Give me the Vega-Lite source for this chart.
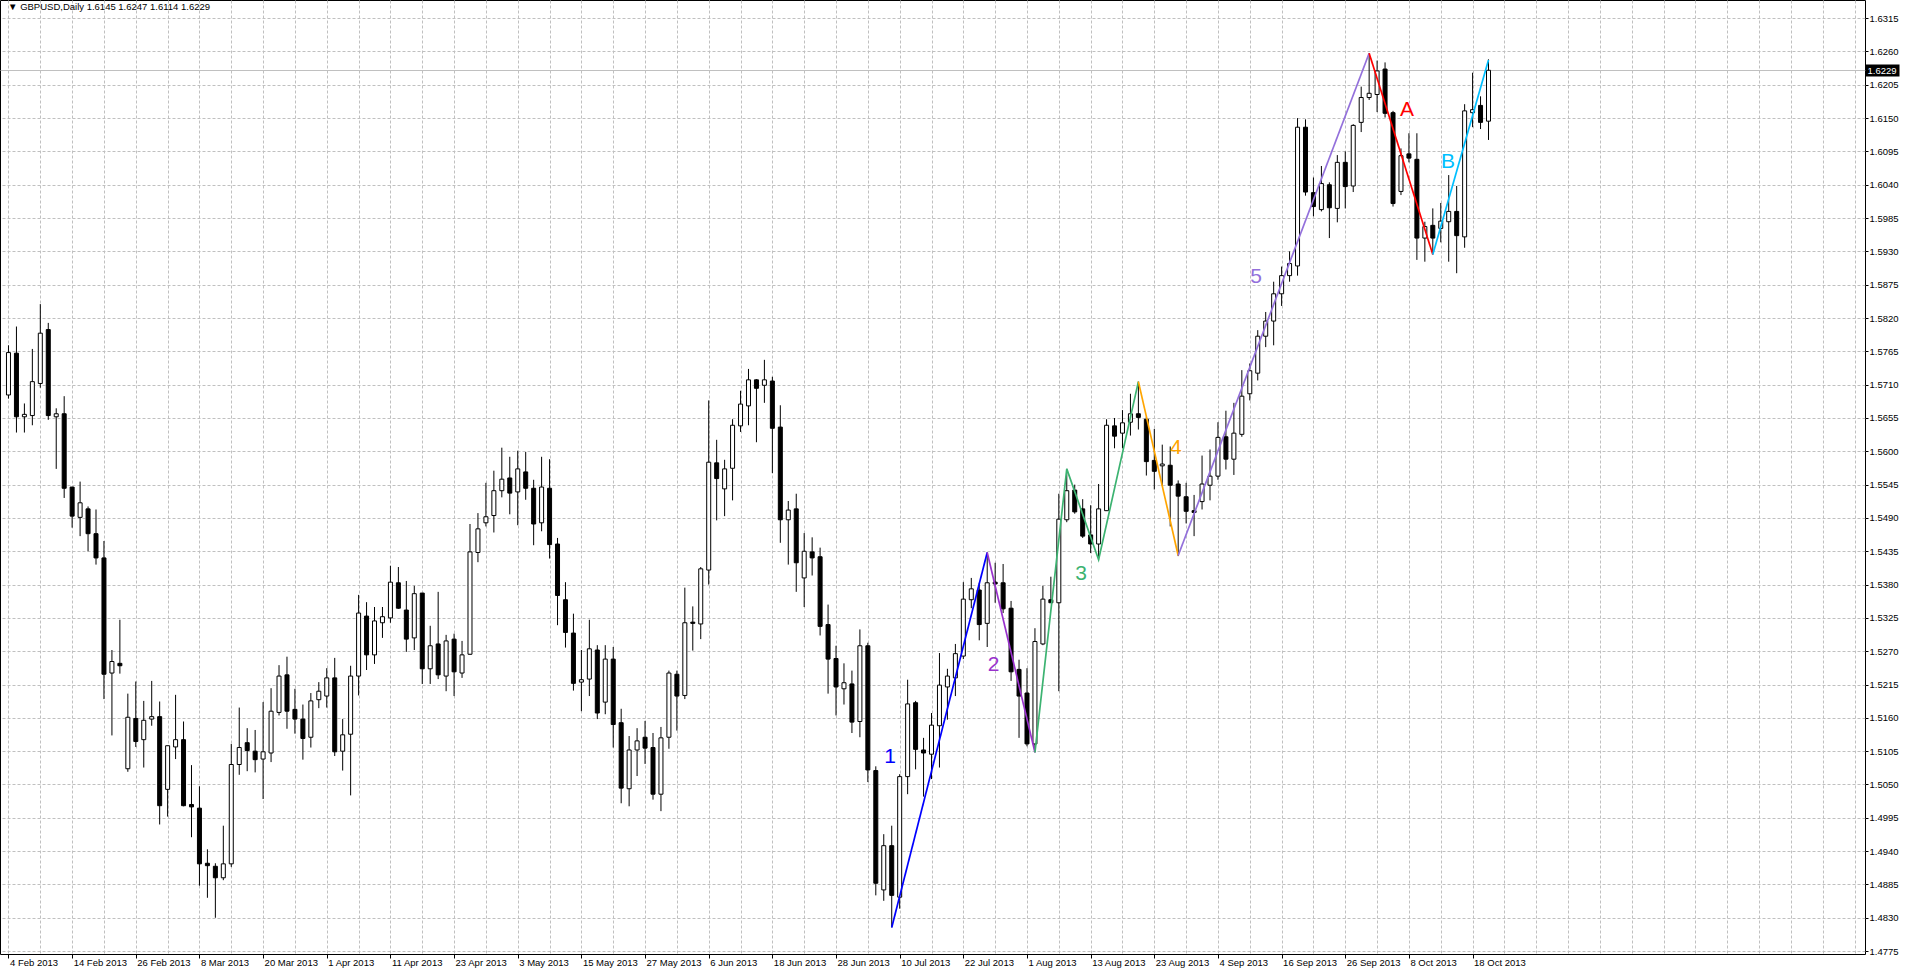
{
"$schema": "https://vega.github.io/schema/vega-lite/v6.json",
"width": 1865, "height": 954,
"autosize": "none",
"padding": {"left": 0, "top": 0, "right": 41, "bottom": 19},
"background": "white",
"config": {
  "view": {"stroke": "black", "strokeWidth": 1},
  "axis": {"labelFont": "Liberation Sans", "labelFontSize": 9.5, "labelColor": "black", "tickColor": "black", "gridColor": "#c0c0c0", "domain": false, "title": null, "labelOverlap": false, "labelBound": false, "labelFlush": false}
},
"datasets": {
"candles": [
{"i":0,"o":1.5693,"h":1.5775,"l":1.5687,"c":1.5763},
{"i":1,"o":1.5762,"h":1.5806,"l":1.5631,"c":1.5657},
{"i":2,"o":1.5657,"h":1.5679,"l":1.5631,"c":1.5661},
{"i":3,"o":1.5659,"h":1.5769,"l":1.5643,"c":1.5715},
{"i":4,"o":1.5712,"h":1.5843,"l":1.5705,"c":1.5795},
{"i":5,"o":1.5801,"h":1.5812,"l":1.5652,"c":1.5659},
{"i":6,"o":1.5657,"h":1.5671,"l":1.5571,"c":1.5662},
{"i":7,"o":1.5662,"h":1.5691,"l":1.5523,"c":1.5539},
{"i":8,"o":1.5541,"h":1.5541,"l":1.5474,"c":1.5493},
{"i":9,"o":1.5491,"h":1.5550,"l":1.5460,"c":1.5515},
{"i":10,"o":1.5505,"h":1.5509,"l":1.5435,"c":1.5464},
{"i":11,"o":1.5464,"h":1.5504,"l":1.5413,"c":1.5424},
{"i":12,"o":1.5424,"h":1.5452,"l":1.5191,"c":1.5232},
{"i":13,"o":1.5234,"h":1.5272,"l":1.5131,"c":1.5253},
{"i":14,"o":1.5250,"h":1.5322,"l":1.5233,"c":1.5246},
{"i":15,"o":1.5076,"h":1.5200,"l":1.5071,"c":1.5161},
{"i":16,"o":1.5159,"h":1.5220,"l":1.5112,"c":1.5121},
{"i":17,"o":1.5124,"h":1.5188,"l":1.5078,"c":1.5156},
{"i":18,"o":1.5158,"h":1.5221,"l":1.5147,"c":1.5162},
{"i":19,"o":1.5162,"h":1.5187,"l":1.4984,"c":1.5015},
{"i":20,"o":1.5042,"h":1.5114,"l":1.4997,"c":1.5114},
{"i":21,"o":1.5112,"h":1.5198,"l":1.5092,"c":1.5124},
{"i":22,"o":1.5124,"h":1.5154,"l":1.5014,"c":1.5015},
{"i":23,"o":1.5017,"h":1.5082,"l":1.4963,"c":1.5013},
{"i":24,"o":1.5011,"h":1.5047,"l":1.4883,"c":1.4919},
{"i":25,"o":1.4920,"h":1.4943,"l":1.4863,"c":1.4916},
{"i":26,"o":1.4915,"h":1.4920,"l":1.4830,"c":1.4896},
{"i":27,"o":1.4896,"h":1.4982,"l":1.4892,"c":1.4919},
{"i":28,"o":1.4919,"h":1.5117,"l":1.4914,"c":1.5083},
{"i":29,"o":1.5083,"h":1.5177,"l":1.5066,"c":1.5111},
{"i":30,"o":1.5119,"h":1.5143,"l":1.5072,"c":1.5106},
{"i":31,"o":1.5105,"h":1.5140,"l":1.5070,"c":1.5091},
{"i":32,"o":1.5092,"h":1.5186,"l":1.5026,"c":1.5104},
{"i":33,"o":1.5102,"h":1.5209,"l":1.5087,"c":1.5171},
{"i":34,"o":1.5169,"h":1.5247,"l":1.5164,"c":1.5229},
{"i":35,"o":1.5231,"h":1.5261,"l":1.5142,"c":1.5171},
{"i":36,"o":1.5174,"h":1.5208,"l":1.5134,"c":1.5158},
{"i":37,"o":1.5158,"h":1.5182,"l":1.5091,"c":1.5126},
{"i":38,"o":1.5128,"h":1.5201,"l":1.5111,"c":1.5188},
{"i":39,"o":1.5190,"h":1.5219,"l":1.5176,"c":1.5204},
{"i":40,"o":1.5196,"h":1.5242,"l":1.5177,"c":1.5226},
{"i":41,"o":1.5226,"h":1.5259,"l":1.5097,"c":1.5104},
{"i":42,"o":1.5105,"h":1.5158,"l":1.5073,"c":1.5132},
{"i":43,"o":1.5133,"h":1.5246,"l":1.5032,"c":1.5229},
{"i":44,"o":1.5229,"h":1.5363,"l":1.5197,"c":1.5333},
{"i":45,"o":1.5328,"h":1.5351,"l":1.5239,"c":1.5264},
{"i":46,"o":1.5264,"h":1.5343,"l":1.5249,"c":1.5320},
{"i":47,"o":1.5317,"h":1.5343,"l":1.5292,"c":1.5327},
{"i":48,"o":1.5325,"h":1.5411,"l":1.5317,"c":1.5384},
{"i":49,"o":1.5383,"h":1.5409,"l":1.5340,"c":1.5341},
{"i":50,"o":1.5338,"h":1.5386,"l":1.5269,"c":1.5290},
{"i":51,"o":1.5292,"h":1.5378,"l":1.5272,"c":1.5365},
{"i":52,"o":1.5366,"h":1.5366,"l":1.5216,"c":1.5241},
{"i":53,"o":1.5241,"h":1.5312,"l":1.5216,"c":1.5279},
{"i":54,"o":1.5282,"h":1.5368,"l":1.5224,"c":1.5231},
{"i":55,"o":1.5229,"h":1.5297,"l":1.5204,"c":1.5287},
{"i":56,"o":1.5290,"h":1.5299,"l":1.5196,"c":1.5236},
{"i":57,"o":1.5234,"h":1.5287,"l":1.5226,"c":1.5264},
{"i":58,"o":1.5265,"h":1.5480,"l":1.5264,"c":1.5434},
{"i":59,"o":1.5433,"h":1.5498,"l":1.5417,"c":1.5472},
{"i":60,"o":1.5482,"h":1.5548,"l":1.5476,"c":1.5492},
{"i":61,"o":1.5494,"h":1.5568,"l":1.5466,"c":1.5535},
{"i":62,"o":1.5535,"h":1.5606,"l":1.5524,"c":1.5554},
{"i":63,"o":1.5556,"h":1.5591,"l":1.5496,"c":1.5531},
{"i":64,"o":1.5533,"h":1.5601,"l":1.5478,"c":1.5571},
{"i":65,"o":1.5566,"h":1.5599,"l":1.5520,"c":1.5539},
{"i":66,"o":1.5539,"h":1.5553,"l":1.5445,"c":1.5480},
{"i":67,"o":1.5482,"h":1.5591,"l":1.5468,"c":1.5541},
{"i":68,"o":1.5539,"h":1.5587,"l":1.5423,"c":1.5446},
{"i":69,"o":1.5447,"h":1.5457,"l":1.5313,"c":1.5362},
{"i":70,"o":1.5355,"h":1.5384,"l":1.5276,"c":1.5301},
{"i":71,"o":1.5300,"h":1.5332,"l":1.5205,"c":1.5217},
{"i":72,"o":1.5219,"h":1.5272,"l":1.5171,"c":1.5223},
{"i":73,"o":1.5224,"h":1.5322,"l":1.5196,"c":1.5274},
{"i":74,"o":1.5272,"h":1.5280,"l":1.5158,"c":1.5168},
{"i":75,"o":1.5186,"h":1.5280,"l":1.5166,"c":1.5257},
{"i":76,"o":1.5257,"h":1.5277,"l":1.5111,"c":1.5149},
{"i":77,"o":1.5152,"h":1.5175,"l":1.5019,"c":1.5044},
{"i":78,"o":1.5043,"h":1.5130,"l":1.5014,"c":1.5107},
{"i":79,"o":1.5107,"h":1.5143,"l":1.5064,"c":1.5122},
{"i":80,"o":1.5128,"h":1.5155,"l":1.5084,"c":1.5110},
{"i":81,"o":1.5111,"h":1.5135,"l":1.5025,"c":1.5034},
{"i":82,"o":1.5034,"h":1.5145,"l":1.5006,"c":1.5127},
{"i":83,"o":1.5128,"h":1.5238,"l":1.5109,"c":1.5234},
{"i":84,"o":1.5232,"h":1.5238,"l":1.5139,"c":1.5196},
{"i":85,"o":1.5197,"h":1.5375,"l":1.5191,"c":1.5317},
{"i":86,"o":1.5318,"h":1.5344,"l":1.5271,"c":1.5316},
{"i":87,"o":1.5315,"h":1.5409,"l":1.5290,"c":1.5406},
{"i":88,"o":1.5404,"h":1.5684,"l":1.5380,"c":1.5582},
{"i":89,"o":1.5581,"h":1.5619,"l":1.5486,"c":1.5555},
{"i":90,"o":1.5538,"h":1.5586,"l":1.5493,"c":1.5571},
{"i":91,"o":1.5572,"h":1.5653,"l":1.5519,"c":1.5643},
{"i":92,"o":1.5642,"h":1.5700,"l":1.5632,"c":1.5678},
{"i":93,"o":1.5675,"h":1.5736,"l":1.5643,"c":1.5718},
{"i":94,"o":1.5718,"h":1.5719,"l":1.5615,"c":1.5704},
{"i":95,"o":1.5709,"h":1.5751,"l":1.5680,"c":1.5718},
{"i":96,"o":1.5716,"h":1.5723,"l":1.5564,"c":1.5638},
{"i":97,"o":1.5640,"h":1.5676,"l":1.5449,"c":1.5487},
{"i":98,"o":1.5487,"h":1.5518,"l":1.5413,"c":1.5503},
{"i":99,"o":1.5505,"h":1.5530,"l":1.5368,"c":1.5416},
{"i":100,"o":1.5391,"h":1.5465,"l":1.5343,"c":1.5435},
{"i":101,"o":1.5434,"h":1.5458,"l":1.5395,"c":1.5424},
{"i":102,"o":1.5426,"h":1.5441,"l":1.5296,"c":1.5311},
{"i":103,"o":1.5314,"h":1.5347,"l":1.5200,"c":1.5257},
{"i":104,"o":1.5258,"h":1.5279,"l":1.5164,"c":1.5211},
{"i":105,"o":1.5208,"h":1.5250,"l":1.5182,"c":1.5218},
{"i":106,"o":1.5216,"h":1.5238,"l":1.5135,"c":1.5153},
{"i":107,"o":1.5154,"h":1.5306,"l":1.5128,"c":1.5279},
{"i":108,"o":1.5279,"h":1.5284,"l":1.5054,"c":1.5074},
{"i":109,"o":1.5073,"h":1.5080,"l":1.4867,"c":1.4887},
{"i":110,"o":1.4876,"h":1.4968,"l":1.4858,"c":1.4949},
{"i":111,"o":1.4949,"h":1.4982,"l":1.4814,"c":1.4867},
{"i":112,"o":1.4864,"h":1.5067,"l":1.4845,"c":1.5063},
{"i":113,"o":1.5063,"h":1.5223,"l":1.5034,"c":1.5183},
{"i":114,"o":1.5185,"h":1.5188,"l":1.5075,"c":1.5108},
{"i":115,"o":1.5107,"h":1.5127,"l":1.5030,"c":1.5102},
{"i":116,"o":1.5100,"h":1.5168,"l":1.5059,"c":1.5148},
{"i":117,"o":1.5147,"h":1.5267,"l":1.5078,"c":1.5214},
{"i":118,"o":1.5211,"h":1.5241,"l":1.5157,"c":1.5229},
{"i":119,"o":1.5226,"h":1.5282,"l":1.5196,"c":1.5266},
{"i":120,"o":1.5262,"h":1.5384,"l":1.5257,"c":1.5356},
{"i":121,"o":1.5355,"h":1.5391,"l":1.5341,"c":1.5373},
{"i":122,"o":1.5371,"h":1.5383,"l":1.5288,"c":1.5314},
{"i":123,"o":1.5316,"h":1.5433,"l":1.5277,"c":1.5383},
{"i":124,"o":1.5384,"h":1.5416,"l":1.5350,"c":1.5381},
{"i":125,"o":1.5383,"h":1.5414,"l":1.5333,"c":1.5340},
{"i":126,"o":1.5341,"h":1.5353,"l":1.5221,"c":1.5236},
{"i":127,"o":1.5240,"h":1.5256,"l":1.5127,"c":1.5196},
{"i":128,"o":1.5201,"h":1.5242,"l":1.5113,"c":1.5117},
{"i":129,"o":1.5117,"h":1.5308,"l":1.5103,"c":1.5286},
{"i":130,"o":1.5282,"h":1.5378,"l":1.5280,"c":1.5356},
{"i":131,"o":1.5355,"h":1.5393,"l":1.5350,"c":1.5350},
{"i":132,"o":1.5350,"h":1.5530,"l":1.5204,"c":1.5488},
{"i":133,"o":1.5487,"h":1.5571,"l":1.5483,"c":1.5535},
{"i":134,"o":1.5536,"h":1.5545,"l":1.5497,"c":1.5500},
{"i":135,"o":1.5505,"h":1.5521,"l":1.5457,"c":1.5460},
{"i":136,"o":1.5462,"h":1.5511,"l":1.5432,"c":1.5447},
{"i":137,"o":1.5447,"h":1.5546,"l":1.5421,"c":1.5505},
{"i":138,"o":1.5502,"h":1.5653,"l":1.5502,"c":1.5643},
{"i":139,"o":1.5642,"h":1.5655,"l":1.5605,"c":1.5625},
{"i":140,"o":1.5630,"h":1.5668,"l":1.5605,"c":1.5647},
{"i":141,"o":1.5648,"h":1.5695,"l":1.5626,"c":1.5662},
{"i":142,"o":1.5662,"h":1.5715,"l":1.5636,"c":1.5656},
{"i":143,"o":1.5653,"h":1.5657,"l":1.5560,"c":1.5583},
{"i":144,"o":1.5585,"h":1.5637,"l":1.5537,"c":1.5567},
{"i":145,"o":1.5576,"h":1.5611,"l":1.5543,"c":1.5579},
{"i":146,"o":1.5577,"h":1.5608,"l":1.5476,"c":1.5544},
{"i":147,"o":1.5546,"h":1.5552,"l":1.5427,"c":1.5526},
{"i":148,"o":1.5525,"h":1.5548,"l":1.5481,"c":1.5501},
{"i":149,"o":1.5502,"h":1.5528,"l":1.5460,"c":1.5499},
{"i":150,"o":1.5517,"h":1.5593,"l":1.5504,"c":1.5546},
{"i":151,"o":1.5544,"h":1.5603,"l":1.5519,"c":1.5559},
{"i":152,"o":1.5559,"h":1.5648,"l":1.5553,"c":1.5623},
{"i":153,"o":1.5624,"h":1.5667,"l":1.5570,"c":1.5587},
{"i":154,"o":1.5587,"h":1.5680,"l":1.5561,"c":1.5630},
{"i":155,"o":1.5628,"h":1.5734,"l":1.5624,"c":1.5691},
{"i":156,"o":1.5695,"h":1.5745,"l":1.5684,"c":1.5733},
{"i":157,"o":1.5729,"h":1.5800,"l":1.5717,"c":1.5790},
{"i":158,"o":1.5790,"h":1.5830,"l":1.5772,"c":1.5815},
{"i":159,"o":1.5815,"h":1.5880,"l":1.5775,"c":1.5860},
{"i":160,"o":1.5860,"h":1.5905,"l":1.5840,"c":1.5890},
{"i":161,"o":1.5890,"h":1.5930,"l":1.5880,"c":1.5910},
{"i":162,"o":1.5906,"h":1.6150,"l":1.5890,"c":1.6135},
{"i":163,"o":1.6135,"h":1.6148,"l":1.6022,"c":1.6028},
{"i":164,"o":1.6027,"h":1.6052,"l":1.5988,"c":1.6004},
{"i":165,"o":1.5999,"h":1.6071,"l":1.5996,"c":1.6042},
{"i":166,"o":1.6040,"h":1.6044,"l":1.5952,"c":1.6002},
{"i":167,"o":1.6001,"h":1.6089,"l":1.5978,"c":1.6077},
{"i":168,"o":1.6077,"h":1.6095,"l":1.6001,"c":1.6037},
{"i":169,"o":1.6038,"h":1.6140,"l":1.6028,"c":1.6138},
{"i":170,"o":1.6143,"h":1.6202,"l":1.6127,"c":1.6184},
{"i":171,"o":1.6184,"h":1.6257,"l":1.6180,"c":1.6191},
{"i":172,"o":1.6189,"h":1.6245,"l":1.6160,"c":1.6228},
{"i":173,"o":1.6231,"h":1.6242,"l":1.6151,"c":1.6158},
{"i":174,"o":1.6159,"h":1.6162,"l":1.6004,"c":1.6009},
{"i":175,"o":1.6029,"h":1.6100,"l":1.6023,"c":1.6088},
{"i":176,"o":1.6091,"h":1.6125,"l":1.6077,"c":1.6084},
{"i":177,"o":1.6082,"h":1.6125,"l":1.5916,"c":1.5952},
{"i":178,"o":1.5952,"h":1.5979,"l":1.5913,"c":1.5971},
{"i":179,"o":1.5973,"h":1.6001,"l":1.5925,"c":1.5952},
{"i":180,"o":1.5968,"h":1.6010,"l":1.5945,"c":1.5980},
{"i":181,"o":1.5979,"h":1.6056,"l":1.5913,"c":1.5996},
{"i":182,"o":1.5996,"h":1.6038,"l":1.5894,"c":1.5956},
{"i":183,"o":1.5954,"h":1.6173,"l":1.5936,"c":1.6162},
{"i":184,"o":1.6159,"h":1.6225,"l":1.6135,"c":1.6164},
{"i":185,"o":1.6171,"h":1.6186,"l":1.6132,"c":1.6143},
{"i":186,"o":1.6145,"h":1.6247,"l":1.6114,"c":1.6229}
],
"waves": [
{"w":"1","i":111,"p":1.4814},{"w":"1","i":123,"p":1.5433},
{"w":"2","i":123,"p":1.5433},{"w":"2","i":129,"p":1.5103},
{"w":"3","i":129,"p":1.5103},{"w":"3","i":133,"p":1.5571},{"w":"3","i":137,"p":1.5421},{"w":"3","i":142,"p":1.5715},
{"w":"4","i":142,"p":1.5715},{"w":"4","i":147,"p":1.5428},
{"w":"5","i":147,"p":1.5428},{"w":"5","i":171,"p":1.6257},
{"w":"A","i":171,"p":1.6257},{"w":"A","i":179,"p":1.5925},
{"w":"B","i":179,"p":1.5925},{"w":"B","i":186,"p":1.6246}
],
"labels": [
{"w":"1","i":110.8,"p":1.5096},
{"w":"2","i":123.8,"p":1.5247},
{"w":"3","i":134.8,"p":1.5398},
{"w":"4","i":146.7,"p":1.5605},
{"w":"5","i":156.8,"p":1.5888},
{"w":"A","i":175.75,"p":1.6163},
{"w":"B","i":180.9,"p":1.6077}
],
"header": [
{"t":"▼ GBPUSD,Daily  1.6145 1.6247 1.6114 1.6229","i":-0.05,"p":1.6345}
]
},
"layer": [
{
 "data": {"name": "candles"},
 "mark": {"type": "rule", "color": "black", "strokeWidth": 1},
 "encoding": {
  "x": {"field": "i", "type": "quantitative",
        "scale": {"domain": [-0.4375, 232.6875], "nice": false, "zero": false},
        "axis": {"values": [0,4,8,12,16,20,24,28,32,36,40,44,48,52,56,60,64,68,72,76,80,84,88,92,96,100,104,108,112,116,120,124,128,132,136,140,144,148,152,156,160,164,168,172,176,180,184,188,192,196,200,204,208,212,216,220,224,228,232],
                 "grid": true, "gridDash": [3, 2],
                 "tickSize": 4, "tickOpacity": {"condition": {"test": "datum.value % 8 === 0 && datum.value <= 184", "value": 1}, "value": 0},
                 "labelAlign": "left", "labelBaseline": "top", "labelPadding": -1, "labelOffset": 1,
                 "labelExpr": "(datum.value % 8 === 0 && datum.value <= 184) ? ['4 Feb 2013','14 Feb 2013','26 Feb 2013','8 Mar 2013','20 Mar 2013','1 Apr 2013','11 Apr 2013','23 Apr 2013','3 May 2013','15 May 2013','27 May 2013','6 Jun 2013','18 Jun 2013','28 Jun 2013','10 Jul 2013','22 Jul 2013','1 Aug 2013','13 Aug 2013','23 Aug 2013','4 Sep 2013','16 Sep 2013','26 Sep 2013','8 Oct 2013','18 Oct 2013'][round(datum.value/8)] : ''"}},
  "y": {"field": "l", "type": "quantitative",
        "scale": {"domain": [1.47702, 1.6345], "nice": false, "zero": false},
        "axis": {"orient": "right",
                 "values": [1.4775,1.483,1.4885,1.494,1.4995,1.505,1.5105,1.516,1.5215,1.527,1.5325,1.538,1.5435,1.549,1.5545,1.56,1.5655,1.571,1.5765,1.582,1.5875,1.593,1.5985,1.604,1.6095,1.615,1.6205,1.626,1.6315,1.6229],
                 "format": ".4f", "grid": true,
                 "gridDash": {"condition": {"test": "abs(datum.value - 1.6229) < 0.000001", "value": []}, "value": [3, 2]},
                 "tickSize": {"condition": {"test": "abs(datum.value - 1.6229) < 0.000001", "value": 34}, "value": 3},
                 "tickWidth": {"condition": {"test": "abs(datum.value - 1.6229) < 0.000001", "value": 12}, "value": 1},
                 "labelColor": {"condition": {"test": "abs(datum.value - 1.6229) < 0.000001", "value": "white"}, "value": "black"},
                 "labelPadding": {"condition": {"test": "abs(datum.value - 1.6229) < 0.000001", "value": -32}, "value": 1}}},
  "y2": {"field": "h"}
 }
},
{
 "data": {"name": "candles"},
 "mark": {"type": "bar", "size": 4, "stroke": "black", "strokeWidth": 1},
 "encoding": {
  "x": {"field": "i", "type": "quantitative", "axis": null},
  "y": {"field": "o", "type": "quantitative", "axis": null},
  "y2": {"field": "c"},
  "fill": {"condition": {"test": "datum.c < datum.o", "value": "black"}, "value": "white"}
 }
},
{
 "data": {"name": "waves"},
 "mark": {"type": "line", "strokeWidth": 1.7},
 "encoding": {
  "x": {"field": "i", "type": "quantitative", "axis": null},
  "y": {"field": "p", "type": "quantitative", "axis": null},
  "color": {"field": "w", "type": "nominal", "legend": null,
            "scale": {"domain": ["1","2","3","4","5","A","B"], "range": ["#0000ff","#9932cc","#3cb371","#ffa500","#9370db","#ff0000","#00bfff"]}}
 }
},
{
 "data": {"name": "labels"},
 "mark": {"type": "text", "font": "Liberation Sans", "fontSize": 21, "align": "center", "baseline": "middle"},
 "encoding": {
  "x": {"field": "i", "type": "quantitative", "axis": null},
  "y": {"field": "p", "type": "quantitative", "axis": null},
  "text": {"field": "w"},
  "color": {"field": "w", "type": "nominal", "legend": null}
 }
},
{
 "data": {"name": "header"},
 "mark": {"type": "text", "font": "Liberation Sans", "fontSize": 9.5, "align": "left", "baseline": "top", "dy": 2, "color": "black"},
 "encoding": {
  "x": {"field": "i", "type": "quantitative", "axis": null},
  "y": {"field": "p", "type": "quantitative", "axis": null},
  "text": {"field": "t"}
 }
}
],
"resolve": {"axis": {"x": "independent", "y": "independent"}}
}
